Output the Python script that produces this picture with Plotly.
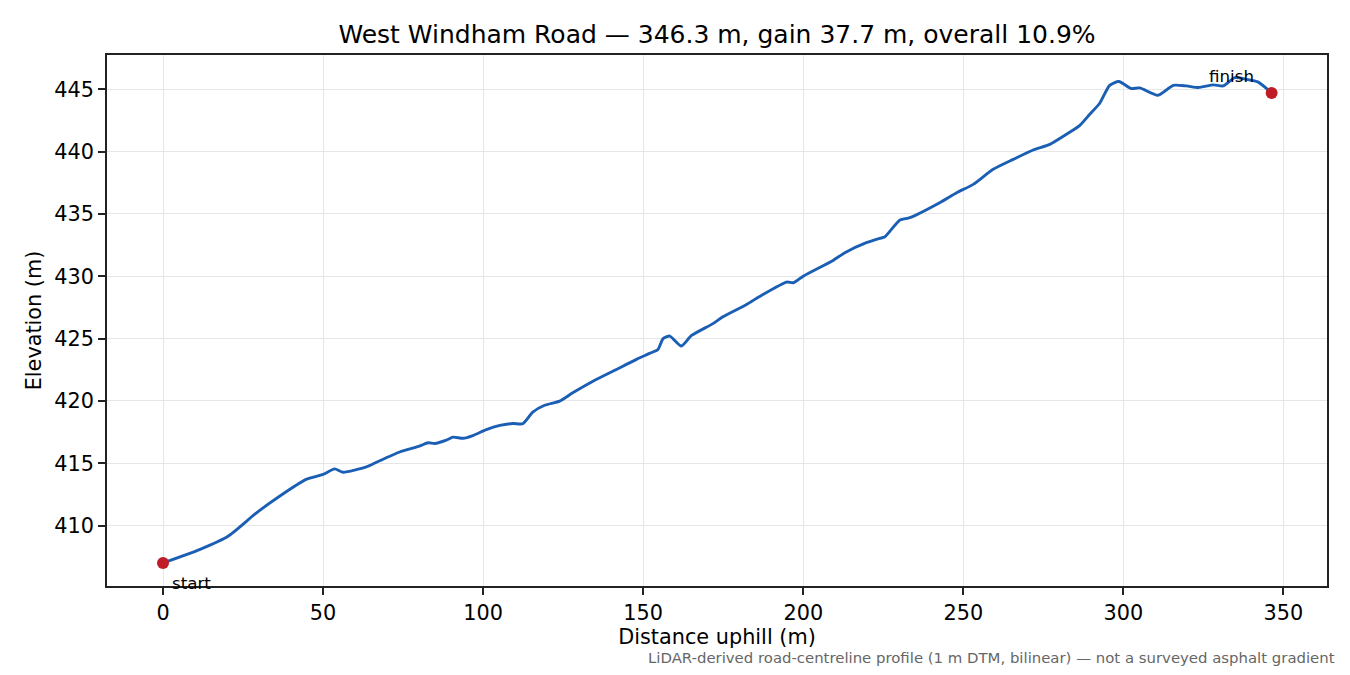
import plotly.graph_objects as go

# elevation profile (distance along road, elevation)
dist_m = [0, 11.4, 20.3, 29.1, 36.4, 44.7, 50.0, 53.6, 56.2, 63.5, 66.7, 73.9,
          80.1, 82.8, 84.9, 88.5, 90.6, 93.7, 96.8, 101.0, 105.2, 109.3, 112.4,
          115.5, 119.2, 123.9, 128.0, 134.3, 141.6, 147.9, 152.0, 154.6, 156.2,
          158.3, 161.9, 165.1, 171.8, 174.9, 182.3, 186.9, 194.8, 196.9, 200.0,
          209.3, 213.0, 219.7, 223.9, 225.4, 230.2, 233.3, 242.6, 247.9, 253.1,
          259.3, 265.6, 271.8, 277.0, 282.2, 286.4, 289.5, 292.6, 295.7, 298.6,
          302.4, 305.1, 310.8, 315.6, 319.7, 323.4, 328.1, 331.2, 334.8, 338.4,
          342.0, 346.3]
elev_m = [407.0, 408.07, 409.14, 411.0, 412.35, 413.7, 414.1, 414.55, 414.28,
          414.7, 415.08, 415.9, 416.37, 416.64, 416.58, 416.85, 417.09, 417.0,
          417.22, 417.7, 418.03, 418.19, 418.17, 419.1, 419.65, 419.98, 420.65,
          421.58, 422.52, 423.33, 423.81, 424.13, 425.0, 425.2, 424.4, 425.25,
          426.2, 426.75, 427.74, 428.46, 429.53, 429.48, 430.01, 431.27, 431.89,
          432.69, 433.04, 433.14, 434.51, 434.7, 435.9, 436.7, 437.37, 438.58,
          439.38, 440.13, 440.58, 441.39, 442.11, 443.0, 443.88, 445.32, 445.62,
          445.06, 445.11, 444.52, 445.32, 445.27, 445.14, 445.35, 445.27, 445.94,
          445.8, 445.59, 444.7]

x_ticks = [0, 50, 100, 150, 200, 250, 300, 350]
y_ticks = [410, 415, 420, 425, 430, 435, 440, 445]

FONT = "DejaVu Sans"
LINE_BLUE = "#1a5fb4"
DOT_RED = "#c01c28"

fig = go.Figure()
fig.add_trace(go.Scatter(x=dist_m, y=elev_m, mode="lines",
                         line=dict(color=LINE_BLUE, width=2.9, shape="spline", smoothing=0.6),
                         hoverinfo="skip"))
# start / finish markers
fig.add_trace(go.Scatter(x=[dist_m[0], dist_m[-1]], y=[elev_m[0], elev_m[-1]],
                         mode="markers", marker=dict(color=DOT_RED, size=12),
                         hoverinfo="skip"))

fig.add_annotation(x=dist_m[0], y=elev_m[0], text="start", showarrow=False,
                   xanchor="left", yanchor="middle", xshift=7, yshift=-20,
                   font=dict(family=FONT, size=16.7, color="black"))
fig.add_annotation(x=dist_m[-1], y=elev_m[-1], text="finish", showarrow=False,
                   xanchor="right", yanchor="middle", xshift=-16, yshift=17,
                   font=dict(family=FONT, size=16.7, color="black"))
fig.add_annotation(xref="paper", yref="paper", x=1.0074, y=-0.135,
                   text="LiDAR-derived road-centreline profile (1 m DTM, bilinear) — not a surveyed asphalt gradient",
                   showarrow=False, xanchor="right", yanchor="middle",
                   borderpad=0,
                   font=dict(family=FONT, size=14.9, color="#666666"))

axis_common = dict(
    showline=True, linecolor="#222222", linewidth=1.6, mirror=True,
    ticks="outside", ticklen=7, tickwidth=1.6, tickcolor="#222222",
    showgrid=True, gridcolor="#e6e6e6", gridwidth=1.4, zeroline=False,
    tickfont=dict(family=FONT, size=20.8, color="black"),
)
fig.update_xaxes(range=[-17.5, 363.6], tickvals=x_ticks,
                 title=dict(text="Distance uphill (m)", standoff=6,
                            font=dict(family=FONT, size=20.8, color="black")),
                 **axis_common)
fig.update_yaxes(range=[405.15, 447.75], tickvals=y_ticks,
                 title=dict(text="Elevation (m)", standoff=7,
                            font=dict(family=FONT, size=20.8, color="black")),
                 **axis_common)

# page body adds an 8 px offset, so the figure is drawn 16 px smaller
fig.update_layout(
    width=1334, height=659,
    margin=dict(l=99, r=15, t=47, b=81),
    plot_bgcolor="white", paper_bgcolor="white",
    showlegend=False,
    title=dict(text="West Windham Road — 346.3 m, gain 37.7 m, overall 10.9%",
               x=0.5, xref="paper", y=1 - 26 / 659, yanchor="middle",
               font=dict(family=FONT, size=25, color="black")),
)

fig.write_html("out.html")
